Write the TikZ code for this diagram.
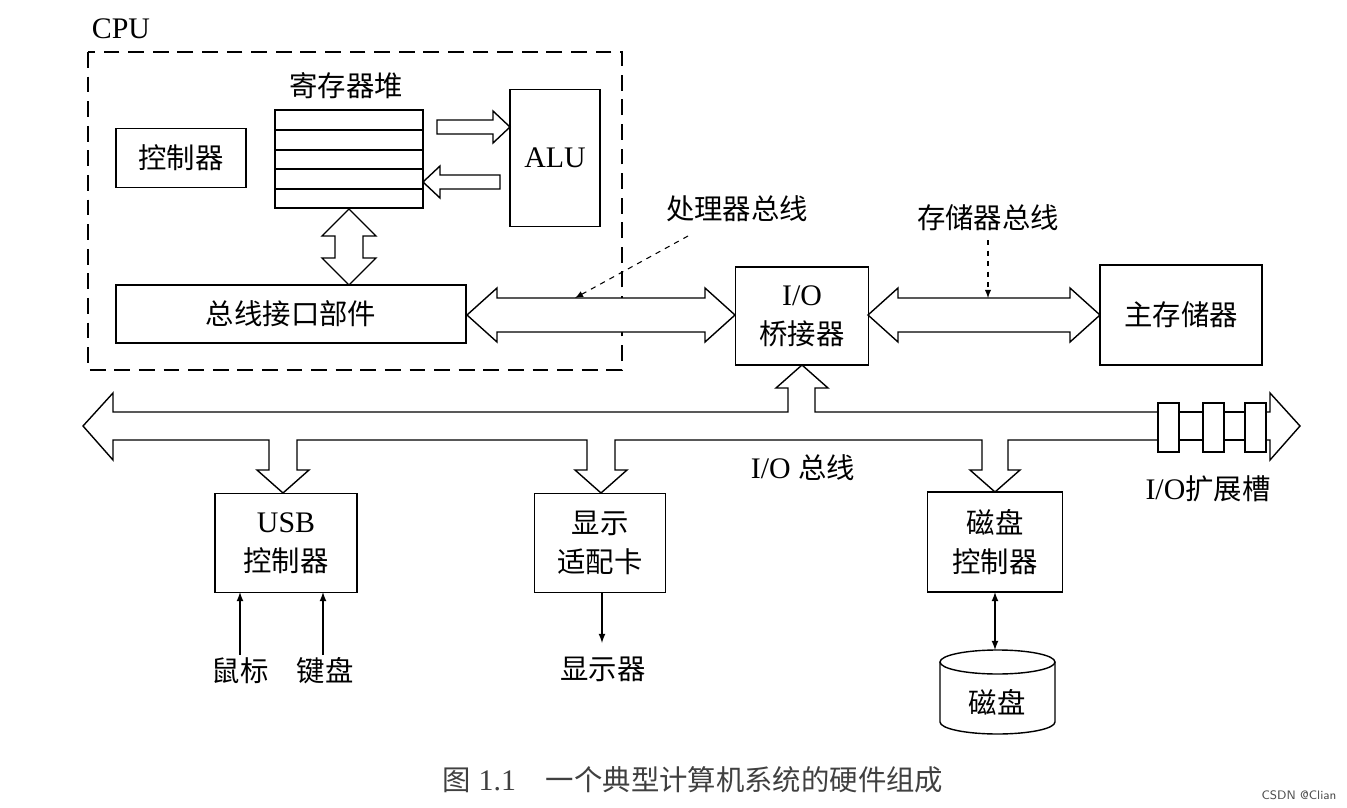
\documentclass[tikz,border=0pt]{standalone}
\usepackage{fontspec}
\setmainfont{Liberation Serif}
\newfontfamily\cjk{Noto Sans CJK SC}[Scale=0.95]
\usetikzlibrary{calc}
\begin{document}
\begin{tikzpicture}[x=0.02cm,y=-0.02cm,line width=0.8pt,
  box/.style={draw,fill=white,inner sep=0pt},
  lbl/.style={font=\fontsize{17}{20}\selectfont\cjk,align=center,inner sep=0pt},
  fat/.style={draw,fill=white,line join=miter}]
\useasboundingbox (0,0) rectangle (1347,808);
% CPU
\draw[dash pattern=on 9pt off 5pt] (88,52) rectangle (622,370);
\node[font=\fontsize{17}{20}\selectfont,inner sep=0pt] (cpu) at (121,29) {CPU};
\node[lbl] (regl) at (346,86) {寄存器堆};
\draw (275,110) rectangle (423,208);
\foreach \y in {130,150,169,189} \draw (275,\y) -- (423,\y);
\coordinate (reg) at (349,159);
\node[box,minimum width=2.6cm,minimum height=1.18cm,lbl] (ctrl) at (181,158) {控制器};
\node[box,minimum width=1.8cm,minimum height=2.74cm,font=\fontsize{17}{20}\selectfont] (alu) at (555,158) {ALU};
% reg->alu
\draw[fat] (437,120)--(493,120)--(493,111)--(510,127)--(493,143)--(493,134)--(437,134)--cycle;
\draw[fat] (500,175)--(440,175)--(440,166)--(423,182)--(440,198)--(440,189)--(500,189)--cycle;
% reg <-> bus iface
\draw[fat] (349,209)--(376,236)--(363,236)--(363,258)--(376,258)--(349,285)--(322,258)--(335,258)--(335,236)--(322,236)--cycle;
\node[box,minimum width=7cm,minimum height=1.16cm,lbl] (biu) at (291,314) {总线接口部件};
% processor bus
\draw[fat] (467,315)--(497,288)--(497,298)--(705,298)--(705,288)--(735,315)--(705,342)--(705,332)--(497,332)--(497,342)--cycle;
\node[box,minimum width=2.66cm,minimum height=1.96cm,lbl] (iob) at (802,316) {\fontsize{17}{20}\selectfont\rmfamily I/O\\[2pt]桥接器};
\draw[fat] (868,315)--(898,288)--(898,298)--(1070,298)--(1070,288)--(1100,315)--(1070,342)--(1070,332)--(898,332)--(898,342)--cycle;
\node[box,minimum width=3.24cm,minimum height=2cm,lbl] (mem) at (1181,315) {主存储器};
\node[lbl] (pbl) at (737,209) {处理器总线};
\coordinate (pbt) at (575,298);
\draw[dashed,line width=0.6pt,-latex] (688,236) -- (pbt);
\node[lbl] (mbl) at (988,218) {存储器总线};
\coordinate (mbt) at (988,298);
\draw[dashed,line width=0.6pt,-latex] (988,240) -- (mbt);
% I/O bus
\draw[fat] (83,426)--(113,393)--(113,412)--(788,412)--(788,388)--(776,388)--(802,365)--(828,388)--(815,388)--(815,412)--(1270,412)--(1270,393)--(1300,426)--(1270,460)--(1270,440)--(1008,440)--(1008,470)--(1020,470)--(995,492)--(970,470)--(982,470)--(982,440)--(615,440)--(615,470)--(627,470)--(601,493)--(575,470)--(587,470)--(587,440)--(297,440)--(297,470)--(309,470)--(283,493)--(257,470)--(269,470)--(269,440)--(113,440)--(113,460)--cycle;
\foreach \x in {1158,1203,1245} \draw[fill=white] (\x,403) rectangle ++(21,49);
\draw (1179,412)--(1203,412) (1179,440)--(1203,440) (1224,412)--(1245,412) (1224,440)--(1245,440);
\node[lbl] (iobl) at (803,468) {\rmfamily I/O {\cjk 总线}};
\node[lbl] (slot) at (1208,489) {\rmfamily I/O{\cjk 扩展槽}};
% devices
\node[box,minimum width=2.84cm,minimum height=1.98cm,lbl] (usb) at (286,543) {\rmfamily USB\\[2pt]控制器};
\node[box,minimum width=2.62cm,minimum height=1.98cm,lbl] (disp) at (600,543) {显示\\[2pt]适配卡};
\node[box,minimum width=2.7cm,minimum height=2cm,lbl] (dctl) at (995,542) {磁盘\\[2pt]控制器};
\node[lbl] (mouse) at (240,671) {鼠标};
\node[lbl] (kbd) at (325,671) {键盘};
\node[lbl] (mon) at (603,669) {显示器};
\draw[-latex] (240,655) -- (240,592);
\draw[-latex] (323,655) -- (323,592);
\draw[-latex] (602,592) -- (602,643);
% disk
\draw[fill=white] (940,662) -- (940,722) arc[x radius=57.5,y radius=12,start angle=180,end angle=0] -- (1055,662);
\draw[fill=white] (997.5,662) ellipse[x radius=57.5,y radius=12];
\node[lbl] (disk) at (997,702) {磁盘};
\draw[latex-latex] (995,592) -- (995,650);
% caption
\node[font=\fontsize{17}{20}\selectfont,text=black!75,inner sep=0pt] (cap) at (693,780) {{\cjk 图} 1.1\quad {\cjk 一个典型计算机系统的硬件组成}};
\node[font=\fontsize{7}{8}\selectfont\sffamily,text=black!70,inner sep=0pt] (wm) at (1299,795) {CSDN @Clian};
\end{tikzpicture}
\end{document}
